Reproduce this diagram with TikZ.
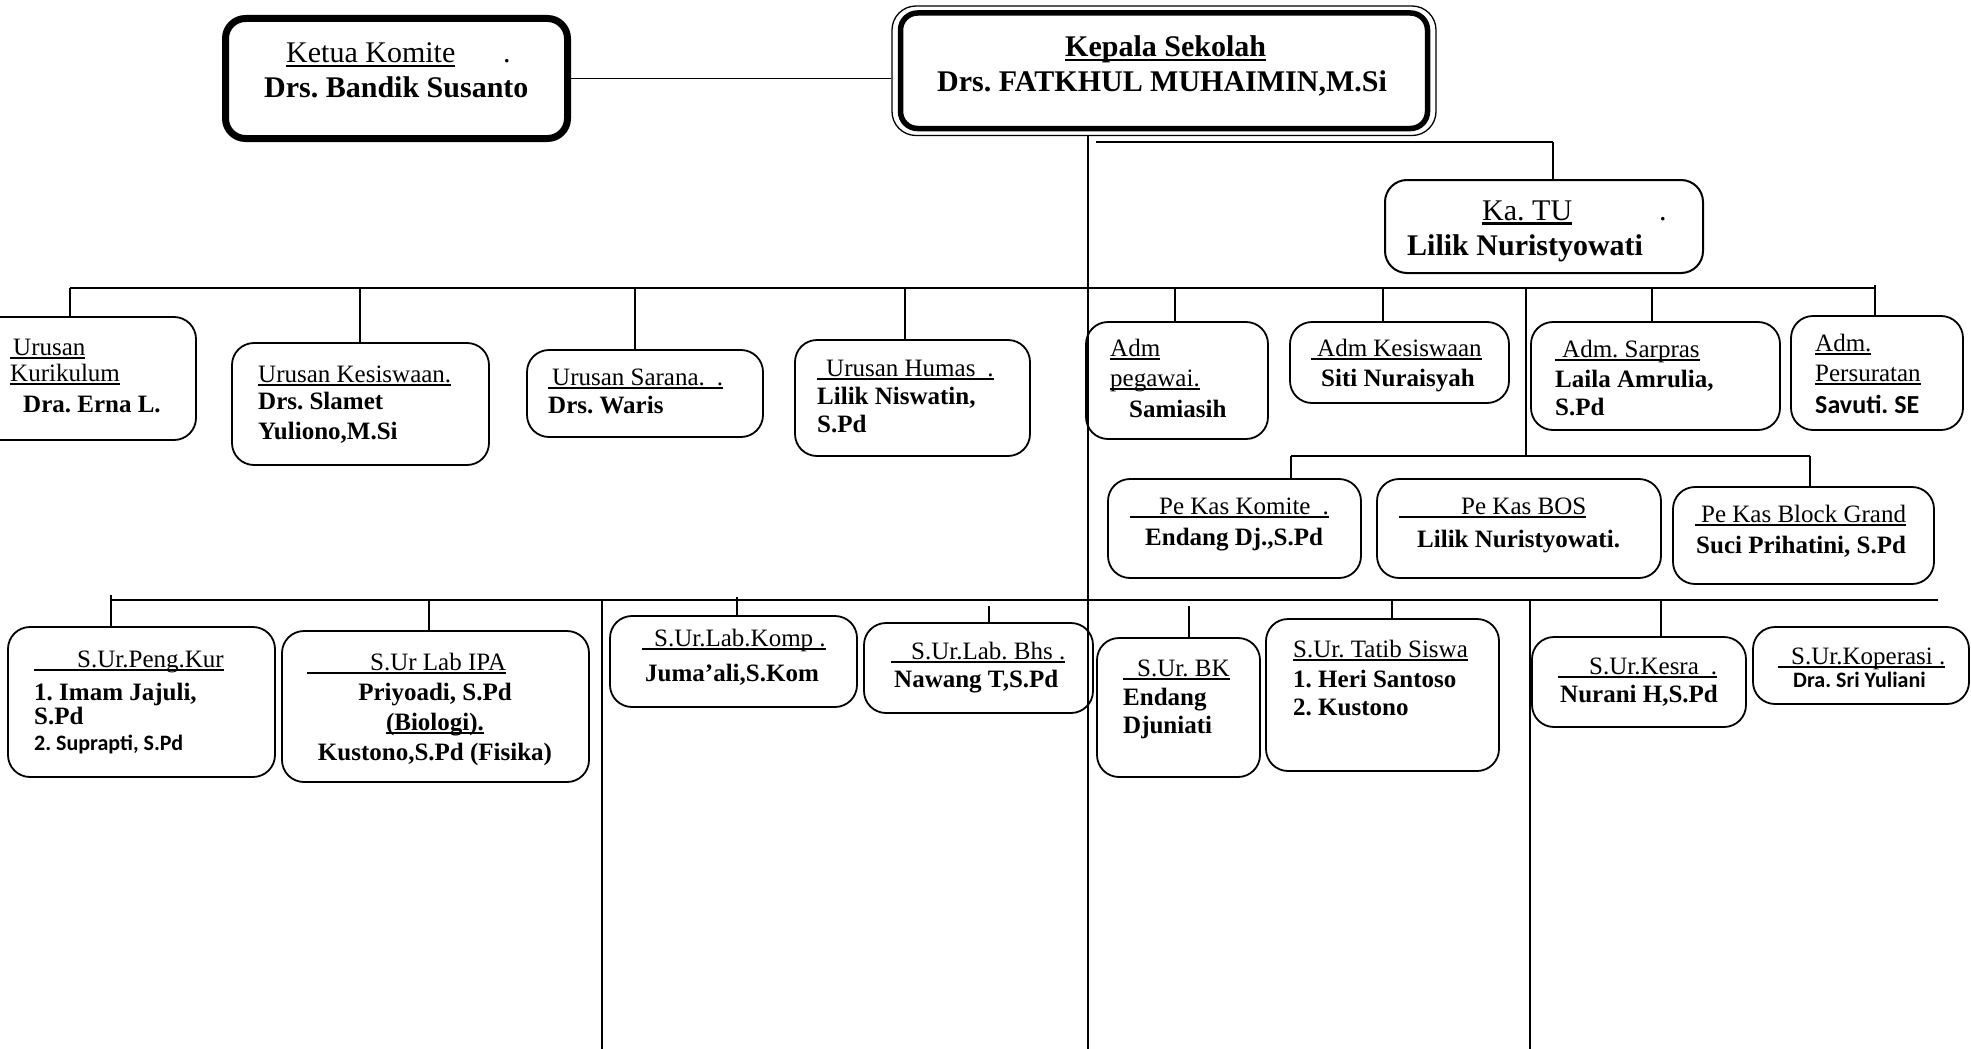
\documentclass[tikz,border=0pt]{standalone}
\usepackage{fontspec}
\setmainfont{Liberation Serif}
\newfontfamily\carl{Carlito}
\frenchspacing
\newsavebox\ulbox
\newlength\ulth \setlength\ulth{1.8pt}
\newlength\uldp \setlength\uldp{4pt}
\newcommand\ul[1]{\sbox\ulbox{#1}\rlap{\rule[-\uldp]{\wd\ulbox}{\ulth}}\usebox\ulbox}
\tikzset{
  box/.style={draw, line width=1.8pt, rounded corners=22pt, inner sep=0pt},
  conn/.style={line width=1.6pt},
  conntwo/.style={line width=2.2pt},
  txt/.style={anchor=base west, inner sep=0pt, font=\fontsize{25}{28}\selectfont},
  txtb/.style={anchor=base west, inner sep=0pt, font=\fontsize{25}{28}\selectfont\bfseries},
  txtc/.style={anchor=base west, inner sep=0pt, font=\carl\fontsize{22}{26}\selectfont\bfseries},
  big/.style={anchor=base west, inner sep=0pt, font=\fontsize{30}{35}\selectfont\setlength\ulth{2.6pt}\setlength\uldp{4.5pt}},
  bigb/.style={anchor=base west, inner sep=0pt, font=\fontsize{30}{35}\selectfont\bfseries\setlength\ulth{2.8pt}\setlength\uldp{4.5pt}},
}
\newcommand\bx[5]{\node[box, minimum width={(#4)-(#2)}, minimum height={(#5)-(#3)}] (#1) at ({((#2)+(#4))/2},{((#3)+(#5))/2}) {};}
\newcommand\drop[4]{\coordinate (#1) at (#2,#3); \draw[conn] (#1) -- (#1 |- #4.north);}
\begin{document}
\begin{tikzpicture}[x=1pt,y=-1pt]
\useasboundingbox (0,0) rectangle (1971,1049);
\fill[white] (0,0) rectangle (1971,1049);

% ---------- top boxes ----------
\node[box, line width=7pt, rounded corners=20pt, minimum width=342, minimum height=120] (ketua) at (396.5,78.5) {};
\node[box, line width=1.3pt, rounded corners=24pt, minimum width=544, minimum height=129.5] (kepala) at (1164,70.75) {};
\node[box, line width=5.5pt, rounded corners=17pt, minimum width=527, minimum height=115.5] (kepalain) at (1164,70.75) {};
\node[box, line width=2pt, rounded corners=22pt, minimum width=318, minimum height=93] (katu) at (1544,226.5) {};

\node[big] (ketua-a) at (286,63) {\ul{Ketua Komite}};
\node[big] (ketua-d) at (503,63) {.};
\node[bigb] (ketua-b) at (264,98) {Drs. Bandik Susanto};
\node[bigb] (kepala-a) at (1065,57) {\ul{Kepala Sekolah}};
\node[bigb] (kepala-b) at (937,92) {Drs. FATKHUL MUHAIMIN,M.Si};
\node[big] (katu-a) at (1482,220) {\ul{Ka. TU}};
\node[big] (katu-d) at (1659,220) {.};
\node[bigb] (katu-b) at (1407,255) {Lilik Nuristyowati};

% ---------- tier 2 boxes ----------
\bx{kur}{-30}{317}{196}{440}
\bx{kes}{232}{343}{489}{465}
\bx{sar}{527}{350}{763}{437}
\bx{hum}{795}{340}{1030}{456}
\bx{adp}{1086}{322}{1268}{439}
\bx{adk}{1290}{322}{1509}{403}
\bx{ads}{1531}{322}{1780}{430}
\bx{adr}{1791}{316}{1963}{430}
\bx{pkk}{1108}{479}{1361}{578}
\bx{pkbos}{1377}{479}{1661}{578}
\bx{pkb}{1673}{487}{1934}{584}

% ---------- tier 3 boxes ----------
\bx{spk}{8}{627}{275}{777}
\bx{ipa}{282}{631}{589}{782}
\bx{komp}{610}{616}{857}{707}
\bx{bhs}{864}{623}{1093}{713}
\bx{bk}{1097}{638}{1260}{777}
\bx{tatib}{1266}{619}{1499}{771}
\bx{kesra}{1532}{637}{1746}{727}
\bx{kop}{1753}{627}{1969}{704}

% ---------- connectors ----------
\draw[conn] (ketua.east) -- (kepala.west |- ketua.east);
\coordinate (vmb) at (1088,1049);
\draw[conn] (vmb |- kepala.south) -- (vmb);
\coordinate (tua) at (1096,142);
\coordinate (tuz) at (1553,142);
\draw[line width=2.5pt] (tua) -- (tuz);
\draw[conn] (tuz) -- (tuz |- katu.north);

\coordinate (t2a) at (70,288);
\coordinate (t2z) at (1875,288);
\draw[conntwo] (t2a) -- (t2z);
\draw[conn] (t2a) -- (t2a |- kur.north);
\drop{d2b}{360}{288}{kes}
\drop{d2c}{635}{288}{sar}
\drop{d2d}{905}{288}{hum}
\drop{d2e}{1175}{288}{adp}
\drop{d2f}{1383}{288}{adk}
\drop{d2g}{1652}{288}{ads}
\drop{d2h}{1875}{285}{adr}

\coordinate (pkv) at (1526,288);
\coordinate (pka) at (1291,456);
\coordinate (pkz) at (1810,456);
\draw[conn] (pkv) -- (pkv |- pka);
\draw[conn] (pka) -- (pkz);
\draw[conn] (pka) -- (pka |- pkk.north);
\draw[conn] (pkz) -- (pkz |- pkb.north);

\coordinate (t3a) at (111,600);
\coordinate (t3z) at (1938,600);
\draw[conntwo] (t3a) -- (t3z);
\drop{d3a}{111}{595}{spk}
\drop{d3b}{429}{600}{ipa}
\drop{d3c}{737}{597}{komp}
\drop{d3d}{989}{606}{bhs}
\drop{d3e}{1189}{606}{bk}
\drop{d3f}{1392}{600}{tatib}
\drop{d3g}{1661}{600}{kesra}
\coordinate (v1t) at (602,600);
\coordinate (v1b) at (602,1049);
\draw[conn] (v1t) -- (v1b);
\coordinate (v2t) at (1530,600);
\coordinate (v2b) at (1530,1049);
\draw[conn] (v2t) -- (v2b);

% ---------- tier 2 texts ----------
\node[txt] (kur-a) at (10,355) {\ul{\hspace{3pt}Urusan}};
\node[txt] (kur-b) at (10,381) {\ul{Kurikulum}};
\node[txtb] (kur-c) at (23,412) {Dra. Erna L.};

\node[txt] (kes-a) at (258,382) {\ul{Urusan Kesiswaan.}};
\node[txtb] (kes-b) at (258,409) {Drs. Slamet};
\node[txtb] (kes-c) at (258,439) {Yuliono,M.Si};

\node[txt] (sar-a) at (548,385) {\ul{\hspace{4pt}Urusan Sarana.\hspace{12pt}.}};
\node[txtb] (sar-b) at (548,413) {Drs. Waris};

\node[txt] (hum-a) at (817,376) {\ul{\hspace{9pt}Urusan Humas\hspace{12pt}.}};
\node[txtb] (hum-b) at (817,404) {Lilik Niswatin,};
\node[txtb] (hum-c) at (817,432) {S.Pd};

\node[txt] (adp-a) at (1110,356) {\ul{Adm}};
\node[txt] (adp-b) at (1110,386) {\ul{pegawai.}};
\node[txtb] (adp-c) at (1129,417) {Samiasih};

\node[txt] (adk-a) at (1311,356) {\ul{\hspace{6pt}Adm Kesiswaan}};
\node[txtb] (adk-b) at (1321,386) {Siti Nuraisyah};

\node[txt] (ads-a) at (1555,357) {\ul{\hspace{7pt}Adm. Sarpras}};
\node[txtb] (ads-b) at (1555,387) {Laila Amrulia,};
\node[txtb] (ads-c) at (1555,415) {S.Pd};

\node[txt] (adr-a) at (1815,351) {\ul{Adm.}};
\node[txt] (adr-b) at (1815,381) {\ul{Persuratan}};
\node[txtc, font=\carl\fontsize{26}{30}\selectfont\bfseries] (adr-c) at (1815,413) {Savuti. SE};

\node[txt] (pkk-a) at (1130,514) {\ul{\hspace{29pt}Pe Kas Komite\hspace{12pt}.}};
\node[txtb] (pkk-b) at (1145,545) {Endang Dj.,S.Pd};

\node[txt] (pkbos-a) at (1399,514) {\ul{\hspace{62pt}Pe Kas BOS}};
\node[txtb] (pkbos-b) at (1417,547) {Lilik Nuristyowati.};

\node[txt] (pkb-a) at (1695,522) {\ul{\hspace{6pt}Pe Kas Block Grand}};
\node[txtb] (pkb-b) at (1696,553) {Suci Prihatini, S.Pd};

% ---------- tier 3 texts ----------
\node[txt] (spk-a) at (34,667) {\ul{\hspace{43pt}S.Ur.Peng.Kur}};
\node[txtb] (spk-b) at (34,700) {1. Imam Jajuli,};
\node[txtb] (spk-c) at (34,724) {S.Pd};
\node[txtc] (spk-d) at (34,750) {2. Suprapti, S.Pd};

\node[txt] (ipa-a) at (307,670) {\ul{\hspace{63pt}S.Ur Lab IPA}};
\node[txtb, anchor=base] (ipa-b) at (435,700) {Priyoadi, S.Pd};
\node[txtb, anchor=base] (ipa-c) at (435,730) {\ul{(Biologi).}};
\node[txtb, anchor=base] (ipa-d) at (435,760) {Kustono,S.Pd (Fisika)};

\node[txt] (komp-a) at (642,646) {\ul{\hspace{12pt}S.Ur.Lab.Komp .}};
\node[txtb] (komp-b) at (645,681) {Juma’ali,S.Kom};

\node[txt] (bhs-a) at (891,659) {\ul{\hspace{20pt}S.Ur.Lab. Bhs .}};
\node[txtb] (bhs-b) at (894,687) {Nawang T,S.Pd};

\node[txt] (bk-a) at (1123,676) {\ul{\hspace{14pt}S.Ur. BK}};
\node[txtb] (bk-b) at (1123,705) {Endang};
\node[txtb] (bk-c) at (1123,733) {Djuniati};

\node[txt] (tatib-a) at (1293,657) {\ul{S.Ur. Tatib Siswa}};
\node[txtb] (tatib-b) at (1293,687) {1. Heri Santoso};
\node[txtb] (tatib-c) at (1293,715) {2. Kustono};

\node[txt] (kesra-a) at (1558,674) {\ul{\hspace{31pt}S.Ur.Kesra\hspace{12pt}.}};
\node[txtb] (kesra-b) at (1560,702) {Nurani H,S.Pd};

\node[txt] (kop-a) at (1778,664) {\ul{\hspace{13pt}S.Ur.Koperasi .}};
\node[txtc] (kop-b) at (1793,687) {Dra. Sri Yuliani};
\end{tikzpicture}
\end{document}
